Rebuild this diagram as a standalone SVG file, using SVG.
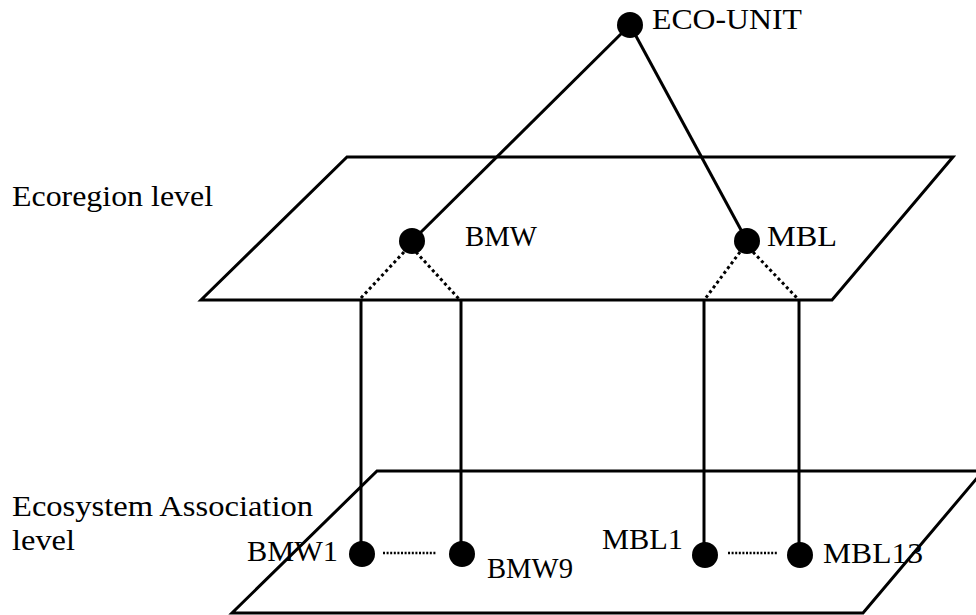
<svg xmlns="http://www.w3.org/2000/svg" width="976" height="615" viewBox="0 0 976 615">
<style>
.plane{fill:none;stroke:#000;stroke-width:3;stroke-linejoin:miter}
.ln{stroke:#000;stroke-width:3;fill:none}
.dot{stroke:#000;stroke-width:3;fill:none;stroke-dasharray:3 3}
.hdot{stroke:#000;stroke-width:2.5;fill:none;stroke-dasharray:2 1.6}
.node{fill:#000}
text{font-family:"Liberation Serif","Times New Roman",serif;font-size:30px;fill:#000}
</style>
<rect width="976" height="615" fill="#fff"/>
<g id="planes">
<polygon id="ecoregion-plane" class="plane" points="347,157 953,157 832,300 201,300"/>
<polygon id="association-plane" class="plane" points="377,471 983,471 863,613 232,613"/>
</g>
<g id="level-labels">
<text x="12" y="206" textLength="201" lengthAdjust="spacingAndGlyphs">Ecoregion level</text>
<text x="12" y="516" textLength="301" lengthAdjust="spacingAndGlyphs">Ecosystem Association</text>
<text x="12" y="550" textLength="63" lengthAdjust="spacingAndGlyphs">level</text>
</g>
<g id="connectors">
<line class="ln" x1="630" y1="25" x2="412" y2="241"/>
<line class="ln" x1="630" y1="25" x2="747" y2="241"/>
<line class="dot" x1="404" y1="252" x2="360" y2="299"/>
<line class="dot" x1="416" y1="252" x2="459" y2="299"/>
<line class="dot" x1="740" y1="252" x2="705" y2="299"/>
<line class="dot" x1="753" y1="252" x2="798" y2="299"/>
<line class="ln" x1="361" y1="300" x2="361" y2="554"/>
<line class="ln" x1="461" y1="300" x2="461" y2="554"/>
<line class="ln" x1="704" y1="300" x2="704" y2="555"/>
<line class="ln" x1="799" y1="300" x2="799" y2="555"/>
<line class="hdot" x1="383" y1="553" x2="436" y2="553"/>
<line class="hdot" x1="728" y1="553" x2="777" y2="553"/>
</g>
<g id="eco-unit"><circle class="node" cx="630" cy="25" r="13"/><text x="652" y="29" textLength="150" lengthAdjust="spacingAndGlyphs">ECO-UNIT</text></g>
<g id="bmw"><circle class="node" cx="412" cy="241" r="13"/><text x="465" y="246" textLength="72" lengthAdjust="spacingAndGlyphs">BMW</text></g>
<g id="mbl"><circle class="node" cx="747" cy="241" r="13"/><text x="767" y="246" textLength="70" lengthAdjust="spacingAndGlyphs">MBL</text></g>
<g id="bmw1"><circle class="node" cx="362" cy="554" r="13"/><text x="247" y="561" textLength="91" lengthAdjust="spacingAndGlyphs">BMW1</text></g>
<g id="bmw9"><circle class="node" cx="462" cy="554" r="13"/><text x="487" y="578" textLength="86" lengthAdjust="spacingAndGlyphs">BMW9</text></g>
<g id="mbl1"><circle class="node" cx="705" cy="555" r="13"/><text x="602" y="549" textLength="81" lengthAdjust="spacingAndGlyphs">MBL1</text></g>
<g id="mbl13"><circle class="node" cx="800" cy="555" r="13"/><text x="823" y="563" textLength="100" lengthAdjust="spacingAndGlyphs">MBL13</text></g>
</svg>
